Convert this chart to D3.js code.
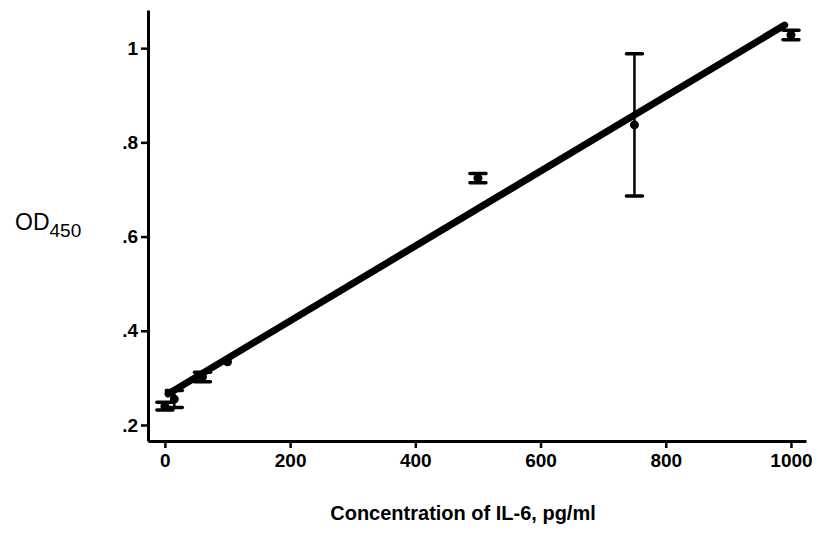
<!DOCTYPE html>
<html>
<head>
<meta charset="utf-8">
<script src="https://cdn.jsdelivr.net/npm/d3@7"></script>
<style>
  body { margin: 0; background: #fff; }
  text { font-family: "Liberation Sans", Arial, sans-serif; fill: #000; }
</style>
</head>
<body>
<div id="chart"></div>
<script>
// data
var concentration = [0, 15, 60, 100, 500, 750, 1000];
var od450 = [0.240, 0.255, 0.302, 0.334, 0.724, 0.837, 1.028];
var errorBar = [0.008, 0.018, 0.010, 0, 0.010, 0.151, 0.010];

// fitted line, end points
var fitX = [5, 990];
var fitY = [0.266, 1.049];

var xTicks = [0, 200, 400, 600, 800, 1000];
var yTicks = [0.2, 0.4, 0.6, 0.8, 1];
var yTickLabels = [".2", ".4", ".6", ".8", "1"];

var svgWidth = 818;
var svgHeight = 534;

var svg = d3.select("#chart")
.append("svg")
.attr("width", svgWidth)
.attr("height", svgHeight);

var xScale = d3.scaleLinear()
.domain([-27, 1024])
.range([148, 806]);

var yScale = d3.scaleLinear()
.domain([0.166, 1.081])
.range([441, 10]);

// axes
var bottomAxis = d3.axisBottom(xScale)
.tickValues(xTicks)
.tickFormat(d3.format("d"))
.tickSizeInner(7)
.tickSizeOuter(0)
.tickPadding(6);

var leftAxis = d3.axisLeft(yScale)
.tickValues(yTicks)
.tickFormat((d, i) => yTickLabels[i])
.tickSizeInner(7)
.tickSizeOuter(0)
.tickPadding(3);

var xAxisG = svg.append("g")
.attr("transform", `translate(0, ${yScale.range()[0]})`)
.call(bottomAxis);

var yAxisG = svg.append("g")
.attr("transform", `translate(${xScale.range()[0]}, 0)`)
.call(leftAxis);

[xAxisG, yAxisG].forEach(function(g) {
  g.select(".domain").attr("stroke", "#000").attr("stroke-width", 3);
  g.selectAll(".tick line").attr("stroke", "#000").attr("stroke-width", 2.5);
  g.selectAll(".tick text")
  .style("font-family", "'Liberation Sans', Arial, sans-serif")
  .style("font-size", "19px")
  .style("font-weight", "bold")
  .attr("fill", "#000");
});

// fitted line
var fitData = fitX.map((d, i) => [d, fitY[i]]);
svg.append("path")
.datum(fitData)
.attr("d", d3.line().x(d => xScale(d[0])).y(d => yScale(d[1])))
.attr("stroke", "#000")
.attr("stroke-width", 7)
.attr("stroke-linecap", "round")
.attr("fill", "none");

// error bars
var points = concentration.map((c, i) => ({x: c, y: od450[i], e: errorBar[i]}));

var bars = svg.selectAll(".err")
.data(points.filter(d => d.e > 0))
.enter()
.append("g")
.attr("class", "err");

bars.append("line")
.attr("x1", d => xScale(d.x))
.attr("x2", d => xScale(d.x))
.attr("y1", d => yScale(d.y - d.e))
.attr("y2", d => yScale(d.y + d.e))
.attr("stroke", "#000")
.attr("stroke-width", 2.5);

bars.selectAll(".cap")
.data(d => [{x: d.x, y: d.y - d.e}, {x: d.x, y: d.y + d.e}])
.enter()
.append("line")
.attr("x1", d => xScale(d.x) - 8)
.attr("x2", d => xScale(d.x) + 8)
.attr("y1", d => yScale(d.y))
.attr("y2", d => yScale(d.y))
.attr("stroke", "#000")
.attr("stroke-width", 3.5)
.attr("stroke-linecap", "round");

svg.selectAll(".dot")
.data(points)
.enter()
.append("circle")
.attr("class", "dot")
.attr("cx", d => xScale(d.x))
.attr("cy", d => yScale(d.y))
.attr("r", 4.5)
.attr("fill", "#000");

// axis titles
svg.append("text")
.attr("x", 463)
.attr("y", 520)
.attr("text-anchor", "middle")
.style("font-size", "20px")
.style("font-weight", "bold")
.text("Concentration of IL-6, pg/ml");

var yTitle = svg.append("text")
.attr("x", 15)
.attr("y", 230)
.style("font-size", "23px");

yTitle.append("tspan").text("OD");
yTitle.append("tspan")
.attr("dy", 7)
.style("font-size", "19px")
.text("450");
</script>
</body>
</html>
